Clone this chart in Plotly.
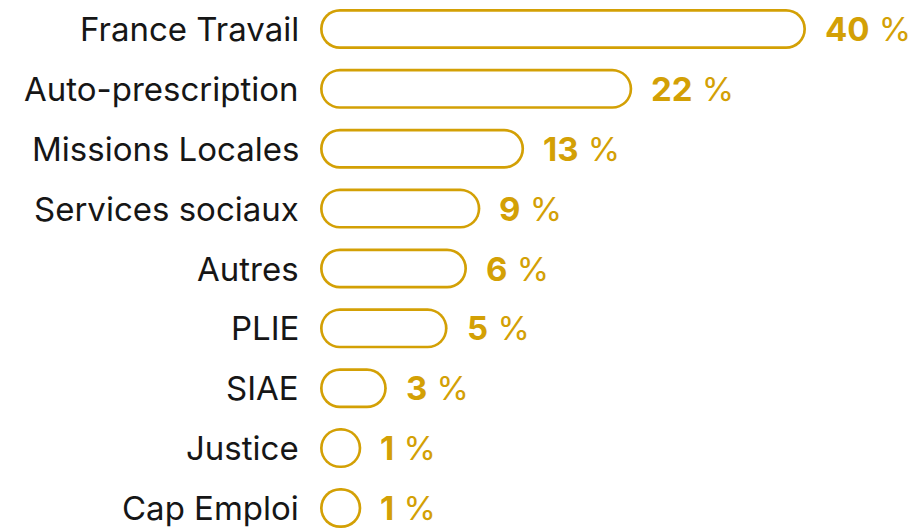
import plotly.graph_objects as go

# ---- data ----
categories = ["France Travail", "Auto-prescription", "Missions Locales", "Services sociaux",
              "Autres", "PLIE", "SIAE", "Justice", "Cap Emploi"]
percent_labels = [40, 22, 13, 9, 6, 5, 3, 1, 1]
# displayed bar lengths (same units as percent scale)
bar_lengths = [40, 25.7, 16.8, 13.2, 12.1, 10.5, 5.5, 3.4, 3.4]

GOLD = "#D3A005"
INK = "#161616"
FONT = "Inter"

OFF = 8  # default page body margin
W, H = 916 - OFF, 529 - OFF
ML = 320 - OFF
PX_PER_UNIT = 486 / 40.0
XMAX = (W - ML) / PX_PER_UNIT
ROW_PX = 59.875
STROKE = 2.7
OUTER_W = 40 / ROW_PX
INNER_W = (40 - 2 * STROKE) / ROW_PX
INSET = STROKE / PX_PER_UNIT
TOP_PX = 29 - OFF

fig = go.Figure()

def pill(length, width, color, base):
    fig.add_trace(go.Bar(
        y=categories, x=length, base=base, orientation="h", width=width,
        marker=dict(color=color, line=dict(width=0), cornerradius="50%"),
        hoverinfo="skip", showlegend=False))

pill(bar_lengths, OUTER_W, GOLD, [0] * len(bar_lengths))
pill([L - 2 * INSET for L in bar_lengths], INNER_W, "white", [INSET] * len(bar_lengths))

annotations = []
for cat, L, v in zip(categories, bar_lengths, percent_labels):
    annotations.append(dict(
        x=0, y=cat, xref="x", yref="y", text=cat, showarrow=False,
        xanchor="right", yanchor="middle", xshift=-19,
        font=dict(family=FONT, size=33, color=INK)))
    annotations.append(dict(
        x=L, y=cat, xref="x", yref="y", text=f"<b>{v}</b> %", showarrow=False,
        xanchor="left", yanchor="middle", xshift=17,
        font=dict(family=FONT, size=33, color=GOLD)))

fig.update_layout(
    width=W, height=H,
    margin=dict(l=ML, r=0, t=0, b=0),
    paper_bgcolor="white", plot_bgcolor="white",
    barmode="overlay",
    xaxis=dict(range=[0, XMAX], visible=False, fixedrange=True),
    yaxis=dict(type="category", categoryorder="array", categoryarray=categories,
               range=[8 + (H - (508 - OFF)) / ROW_PX, -TOP_PX / ROW_PX],
               visible=False, fixedrange=True),
    annotations=annotations,
    font=dict(family=FONT),
)

fig.write_html("out.html", config={"displayModeBar": False})
